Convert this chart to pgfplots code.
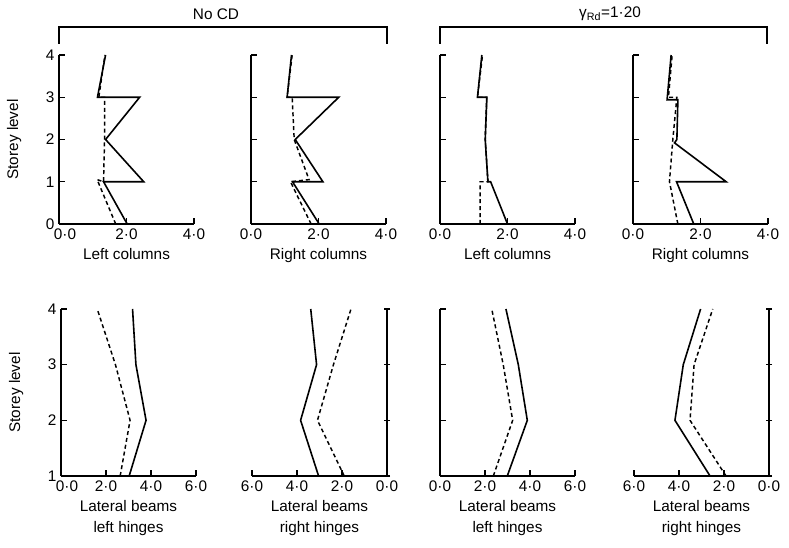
\documentclass[border=0pt]{standalone}
\usepackage{fontspec}
\setmainfont{Liberation Sans}
\usepackage{pgfplots}
\pgfplotsset{compat=1.18}
\newcommand\lf{\fontsize{11.5}{15.5}\selectfont}
\pgfplotsset{
  panel/.style={scale only axis, width=101.25pt,
    axis x line=bottom, axis y line=left,
    axis line style={-, line width=1.1pt, black},
    tick align=inside, major tick length=4.5pt,
    tick style={line width=1.1pt, black},
    tick label style={font=\lf},
    label style={font=\lf},
    xlabel style={align=center},
    clip=false},
  rightaxis/.style={x dir=reverse, axis y line=right,
    axis line style={-, line width=1.1pt, black}},
  toppanel/.style={panel, height=126.75pt, xmin=0, xmax=4, ymin=0, ymax=4,
    xtick={0,2,4}, xticklabels={0·0,2·0,4·0}, ytick={0,1,2,3,4}},
  botpanel/.style={panel, height=125.25pt, xmin=0, xmax=6, ymin=1, ymax=4,
    xtick={0,2,4,6}, xticklabels={0·0,2·0,4·0,6·0}, ytick={1,2,3,4}},
  firstcol/.style={ylabel={Storey level},
    ylabel style={at={(axis description cs:-0.333,0.5)}, anchor=center}},
  sol/.style={black, line width=1.2pt, no markers},
  das/.style={black, line width=1.1pt, dash pattern=on 3pt off 2.2pt, no markers},
}
\begin{document}
\begin{tikzpicture}
\path (0pt,0pt) rectangle (591.75pt,411pt);
% headers
\draw[line width=1pt] (44.25pt,378pt) -- (44.25pt,390.75pt) -- (290.25pt,390.75pt) -- (290.25pt,378pt);
\draw[line width=1pt] (330pt,378pt) -- (330pt,390.75pt) -- (575.25pt,390.75pt) -- (575.25pt,378pt);
\node[font=\lf] at (162pt,400.5pt) {No CD};
\node[font=\lf] at (457.5pt,400.5pt) {γ\textsubscript{Rd}=1·20};
% ---------- top row ----------
\begin{axis}[toppanel, firstcol, at={(44.25pt,243pt)}, anchor=south west,
  xticklabels={\hspace*{9pt}0·0,2·0,4·0},
  yticklabels={0,1,2,3,4}, xlabel={Left columns}]
\addplot[sol] coordinates {(2.02,0)(1.32,1)(2.51,1)(1.38,2)(2.39,3)(1.14,3)(1.38,4)};
\addplot[das] coordinates {(1.68,0)(1.13,1.05)(1.32,1)(1.35,2)(1.35,3)(1.18,3)(1.36,4)};
\end{axis}
\begin{axis}[toppanel, at={(188.25pt,243pt)}, anchor=south west,
  yticklabels={}, xlabel={Right columns}]
\addplot[sol] coordinates {(2.02,0)(1.23,1)(2.13,1)(1.31,2)(2.60,3)(1.07,3)(1.20,4)};
\addplot[das] coordinates {(1.78,0)(1.17,1)(1.72,1.05)(1.28,2)(1.22,3)(1.07,3)(1.22,4)};
\end{axis}
\begin{axis}[toppanel, at={(330pt,243pt)}, anchor=south west,
  yticklabels={}, xlabel={Left columns}]
\addplot[sol] coordinates {(2.0,0)(1.5,1)(1.42,1)(1.34,2)(1.39,3)(1.11,3)(1.24,4)};
\addplot[das] coordinates {(1.19,0)(1.19,1)(1.42,1)(1.34,2)(1.38,3)(1.11,3)(1.26,4)};
\end{axis}
\begin{axis}[toppanel, at={(474.75pt,243pt)}, anchor=south west,
  yticklabels={}, xlabel={Right columns}]
\addplot[sol] coordinates {(1.80,0)(1.29,1)(2.76,1)(1.23,1.92)(1.3,2)(1.33,2.94)(1.01,2.94)(1.13,4)};
\addplot[das] coordinates {(1.33,0)(1.08,1)(1.18,2)(1.3,3)(1.05,3)(1.16,4)};
\end{axis}
% ---------- bottom row ----------
\begin{axis}[botpanel, firstcol, at={(45.75pt,54pt)}, anchor=south west,
  xticklabels={\hspace*{9pt}0·0,2·0,4·0,6·0},
  yticklabels={1,2,3,4}, xlabel={Lateral beams\\left hinges}]
\addplot[sol] coordinates {(3.03,1)(3.78,2)(3.33,3)(3.18,4)};
\addplot[das] coordinates {(2.63,1)(3.07,2)(2.42,3)(1.61,4)};
\end{axis}
\begin{axis}[botpanel, rightaxis, at={(189pt,54pt)}, anchor=south west,
  yticklabels={}, xlabel={Lateral beams\\right hinges}]
\addplot[sol] coordinates {(3.04,1)(3.84,2)(3.13,3)(3.39,4)};
\addplot[das] coordinates {(1.90,1)(3.09,2)(2.38,3)(1.60,4)};
\end{axis}
\begin{axis}[botpanel, at={(330pt,54pt)}, anchor=south west,
  yticklabels={}, xlabel={Lateral beams\\left hinges}]
\addplot[sol] coordinates {(2.99,1)(3.88,2)(3.48,3)(2.93,4)};
\addplot[das] coordinates {(2.37,1)(3.23,2)(2.81,3)(2.30,4)};
\end{axis}
\begin{axis}[botpanel, rightaxis, at={(475.5pt,54pt)}, anchor=south west,
  yticklabels={}, xlabel={Lateral beams\\right hinges}]
\addplot[sol] coordinates {(2.62,1)(4.18,2)(3.81,3)(3.04,4)};
\addplot[das] coordinates {(1.91,1)(3.51,2)(3.33,3)(2.50,4)};
\end{axis}
\end{tikzpicture}
\end{document}
